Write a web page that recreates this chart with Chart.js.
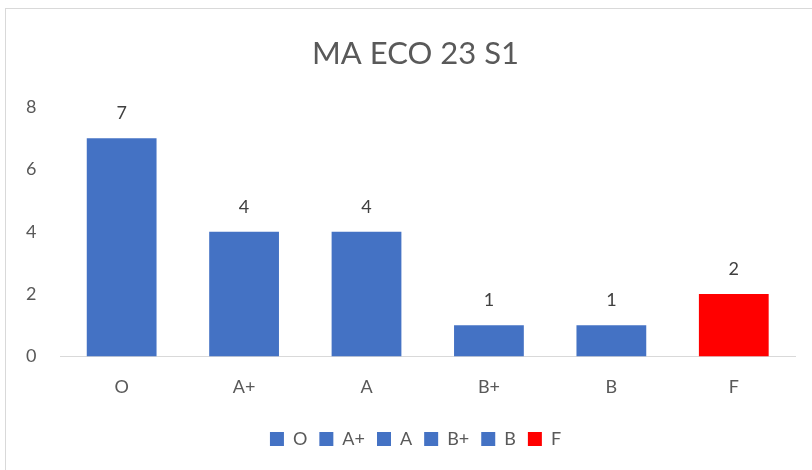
<!DOCTYPE html>
<html lang="en">
<head>
  <meta charset="UTF-8">
  <title>MA ECO 23 S1</title>
  <script src="https://cdn.jsdelivr.net/npm/chart.js"></script>
  <style>
    body { margin: 0; background: #fff; }
    #frame { position: absolute; left: 5px; top: 8px; width: 820px; height: 470px; border: 1px solid #d9d9d9; }
    #wrap { position: absolute; left: 0; top: 0; width: 812px; height: 470px; }
  </style>
</head>
<body>
  <div id="frame"></div>
  <div id="wrap"><canvas id="gradeChart"></canvas></div>

  <script>
    const grades = ['O', 'A+', 'A', 'B+', 'B', 'F'];
    const counts = [7, 4, 4, 1, 1, 2];
    const barColors = ['#4472C4', '#4472C4', '#4472C4', '#4472C4', '#4472C4', '#FF0000'];
    const yTicks = [0, 2, 4, 6, 8];

    const fontFamily = 'Lato, "Open Sans", sans-serif';

    // draws the count above each bar
    const valueLabels = {
      id: 'valueLabels',
      afterDatasetsDraw(chart) {
        const ctx = chart.ctx;
        const meta = chart.getDatasetMeta(0);
        ctx.save();
        ctx.font = '18px ' + fontFamily;
        ctx.fillStyle = '#404040';
        ctx.textAlign = 'center';
        ctx.textBaseline = 'middle';
        meta.data.forEach((bar, i) => {
          ctx.fillText(String(counts[i]), bar.x, bar.y - 25);
        });
        ctx.restore();
      }
    };

    // the original frame is wider than the window, so title and legend sit a bit right of centre
    const nudgeBlocks = {
      id: 'nudgeBlocks',
      afterLayout(chart) {
        [chart.titleBlock, chart.legend].forEach(b => {
          if (!b) return;
          b.left += 17;
          b.right += 17;
        });
      }
    };

    new Chart(document.getElementById('gradeChart'), {
      type: 'bar',
      data: {
        labels: grades,
        datasets: [{ label: 'Count', data: counts, backgroundColor: barColors, barPercentage: 0.57, categoryPercentage: 1 }]
      },
      options: {
        responsive: true,
        maintainAspectRatio: false,
        animation: false,
        layout: { padding: { left: 2, right: 17, top: 0, bottom: 12 } },
        plugins: {
          title: {
            display: true,
            text: 'MA ECO 23 S1',
            color: '#595959',
            font: { family: fontFamily, size: 31, weight: 'normal' },
            padding: { top: 35, bottom: 35 }
          },
          legend: {
            position: 'bottom',
            labels: {
              color: '#595959',
              font: { family: fontFamily, size: 18 },
              boxWidth: 14,
              boxHeight: 14,
              padding: 12,
              generateLabels: (chart) => grades.map((g, i) => ({
                text: g,
                fillStyle: barColors[i],
                strokeStyle: barColors[i],
                lineWidth: 0,
                fontColor: '#595959',
                index: i
              }))
            },
            onClick: () => {}
          },
          tooltip: { enabled: false }
        },
        scales: {
          x: {
            grid: { display: false, drawTicks: false },
            border: { display: true, color: '#d9d9d9', width: 1 },
            ticks: { color: '#595959', font: { family: fontFamily, size: 18 }, padding: 20 }
          },
          y: {
            min: 0,
            max: 8,
            afterBuildTicks: (axis) => { axis.ticks = yTicks.map(v => ({ value: v })); },
            grid: { display: false, drawTicks: false },
            border: { display: false },
            ticks: { color: '#595959', font: { family: fontFamily, size: 18 }, padding: 24 }
          }
        }
      },
      plugins: [valueLabels, nudgeBlocks]
    });
  </script>
</body>
</html>
